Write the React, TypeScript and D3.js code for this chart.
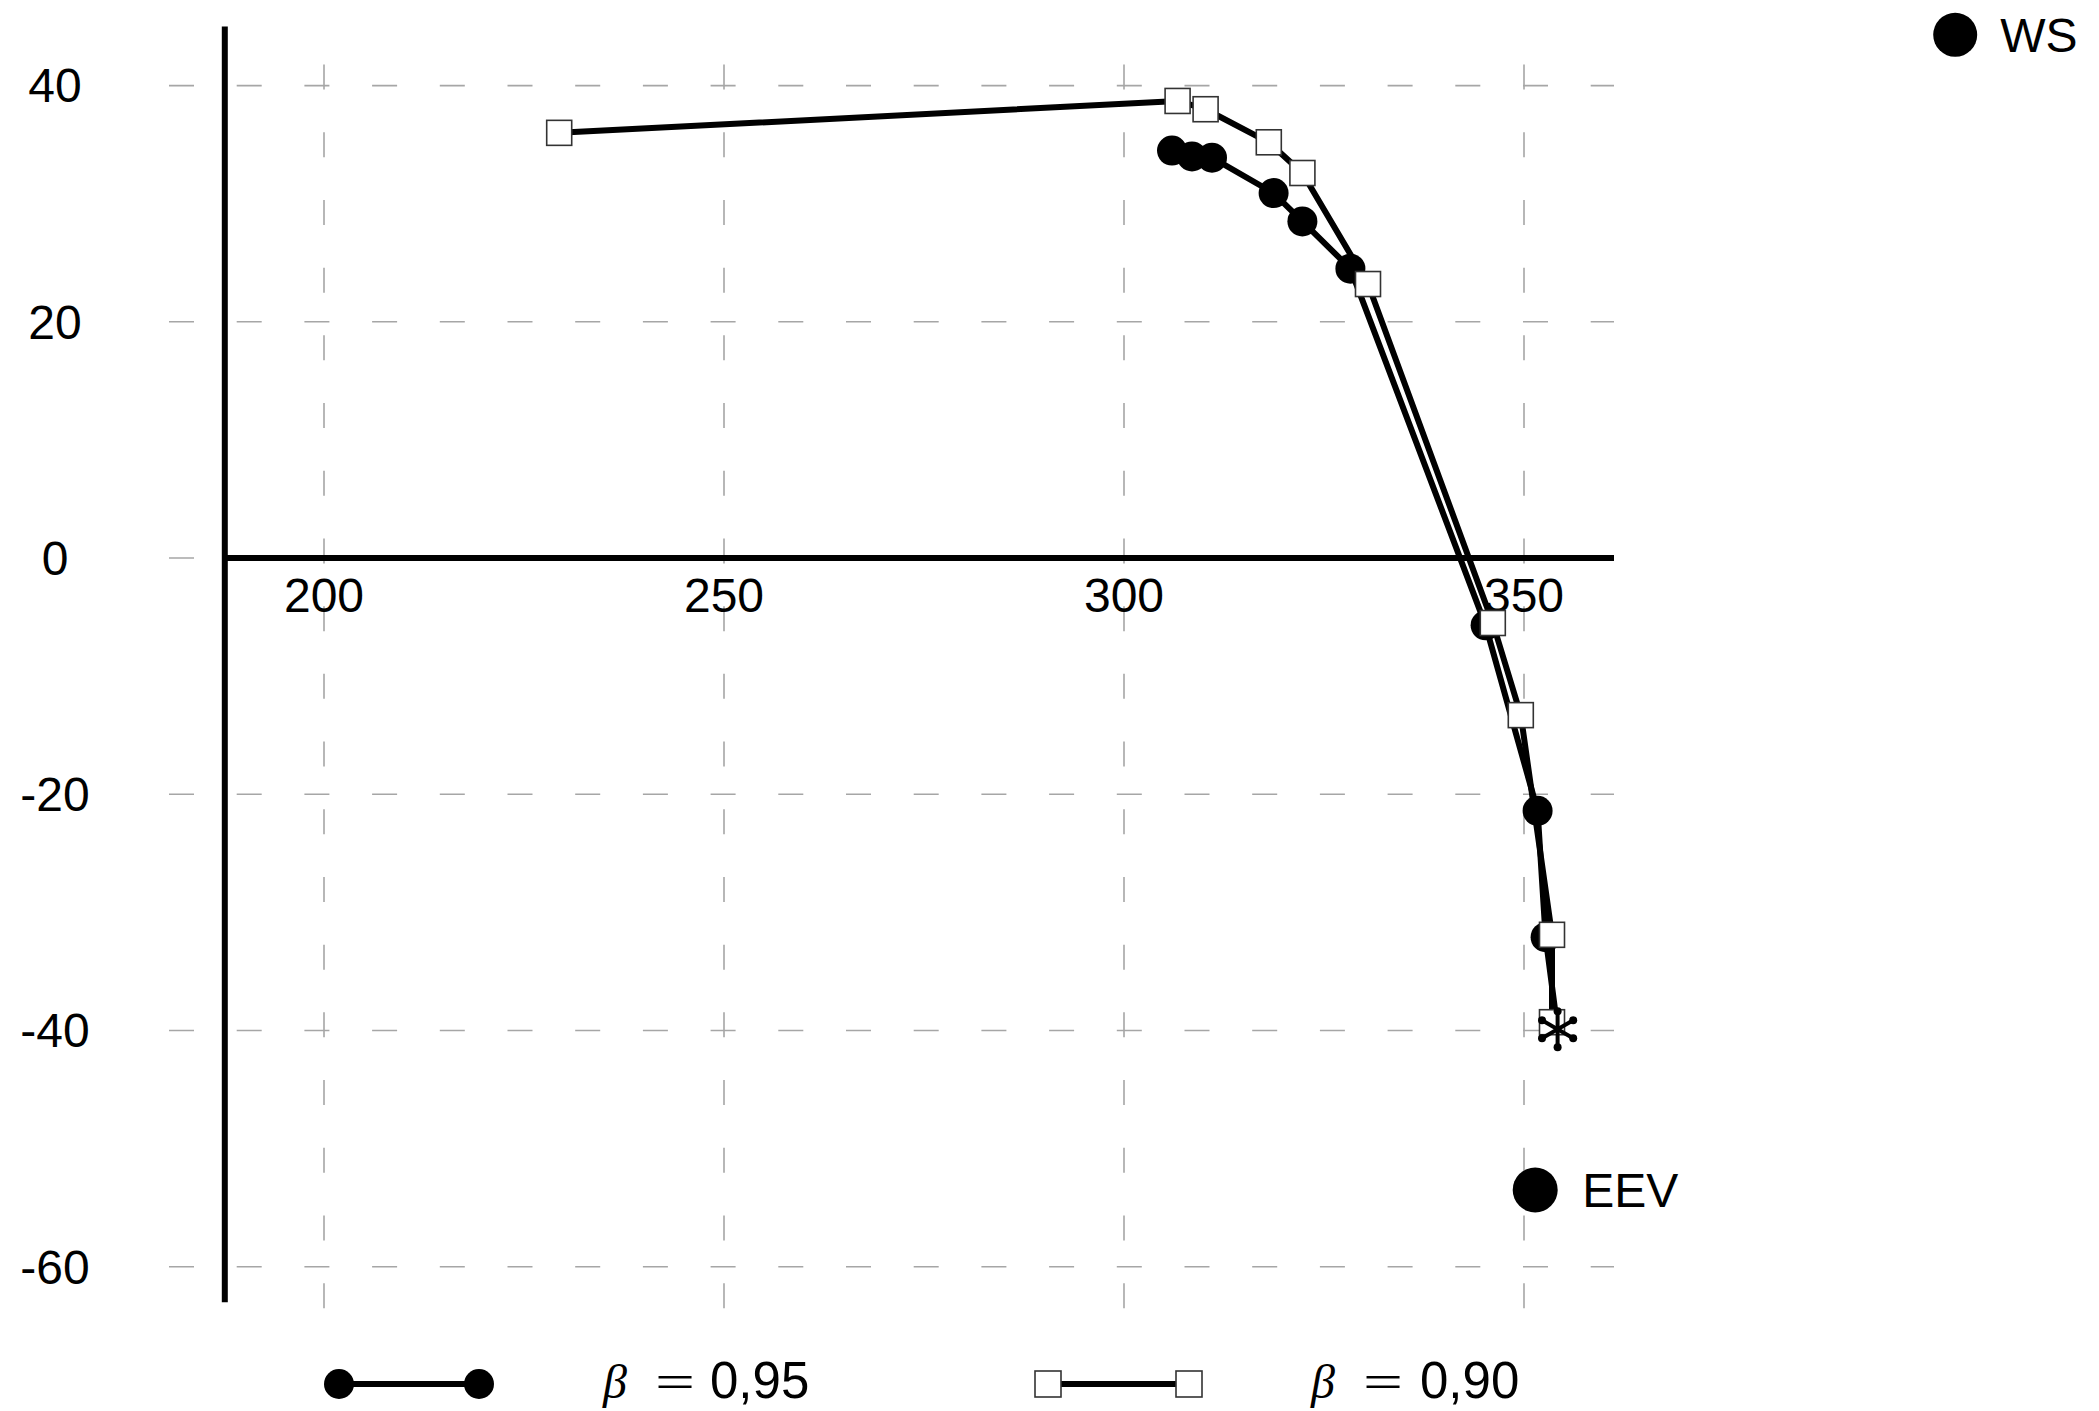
import React from 'react';
import * as d3 from 'd3';

// beta = 0.95 (filled circles)
const beta95X = [306.0, 308.5, 311.0, 318.7, 322.3, 328.3, 345.2, 351.7, 352.7];
const beta95Y = [34.5, 34.0, 33.9, 30.9, 28.5, 24.5, -5.7, -21.4, -32.1];

// beta = 0.90 (open squares)
const beta90X = [229.4, 306.7, 310.2, 318.1, 322.3, 330.5, 346.1, 349.6, 353.5, 353.5];
const beta90Y = [36.0, 38.7, 38.0, 35.2, 32.6, 23.2, -5.5, -13.3, -31.9, -39.3];

// end point (star), and the two labelled points
const idealPoint = [354.2, -39.9];
const eevPoint = [351.4, -53.5];
const wsPoint = [403.9, 44.3];

const xTicks = [200, 250, 300, 350];
const yTicks = [40, 20, 0, -20, -40, -60];
const legendLabels = ['0,95', '0,90'];

const W = 2099;
const H = 1411;
const FONT = '"Liberation Sans", Arial, Helvetica, sans-serif';
const SERIF = '"Liberation Serif", "DejaVu Serif", serif';
const GRID = '#a6a6a6';

export default function App() {
  const x = d3.scaleLinear().domain([200, 350]).range([324, 1524]);
  const y = d3.scaleLinear().domain([40, -60]).range([85.6, 1266.7]);

  const xAxisMin = 187.6;
  const xAxisMax = 361.25;
  const yAxisMin = -63;
  const yAxisMax = 45;

  const line = d3.line<[number, number]>()
    .x(d => x(d[0]))
    .y(d => y(d[1]));

  const pts95: [number, number][] = beta95X.map((v, i) => [v, beta95Y[i]]);
  const pts90: [number, number][] = beta90X.map((v, i) => [v, beta90Y[i]]);
  const line95 = line([...pts95, [idealPoint[0], idealPoint[1]]]);
  const line90 = line(pts90);

  const sq = 25;
  const starX = x(idealPoint[0]);
  const starY = y(idealPoint[1]);
  const spokes = d3.range(6).map(i => (Math.PI / 180) * (30 + i * 60));

  const legendY = 1384;
  const legendBase = 1398;

  return (
    <svg width={W} height={H} style={{ position: 'absolute', left: 0, top: 0, background: '#fff' }}>
      {/* grid */}
      <g stroke={GRID} strokeWidth={1.6} strokeDasharray="25 42.7" fill="none">
        {xTicks.map(t => (
          <line key={'gx' + t} x1={x(t)} x2={x(t)} y1={y(yAxisMin) + 6} y2={y(yAxisMax)} />
        ))}
        {yTicks.map(t => (
          <line key={'gy' + t} x1={169} x2={x(xAxisMax)} y1={y(t)} y2={y(t)} />
        ))}
      </g>

      {/* axes */}
      <line x1={x(xAxisMin)} x2={x(xAxisMin)} y1={y(yAxisMax)} y2={y(yAxisMin)} stroke="#000" strokeWidth={6} />
      <line x1={x(xAxisMin)} x2={x(xAxisMax)} y1={y(0)} y2={y(0)} stroke="#000" strokeWidth={6} />

      {/* tick labels */}
      <g fontFamily={FONT} fontSize={48} fill="#000">
        {xTicks.map(t => (
          <text key={'tx' + t} x={x(t)} y={612} textAnchor="middle">{t}</text>
        ))}
        {yTicks.map(t => (
          <text key={'ty' + t} x={55} y={y(t)} dy="0.35em" textAnchor="middle">{t}</text>
        ))}
      </g>

      {/* beta = 0.95 */}
      <path d={line95 || ''} fill="none" stroke="#000" strokeWidth={6} strokeLinejoin="round" />
      {pts95.map((p, i) => (
        <circle key={'c' + i} cx={x(p[0])} cy={y(p[1])} r={15} fill="#000" />
      ))}

      {/* beta = 0.90 */}
      <path d={line90 || ''} fill="none" stroke="#000" strokeWidth={6} strokeLinejoin="round" />
      {pts90.map((p, i) => (
        <rect key={'s' + i} x={x(p[0]) - sq / 2} y={y(p[1]) - sq / 2} width={sq} height={sq}
          fill="#fff" stroke="#333" strokeWidth={1.6} />
      ))}

      {/* star */}
      <g>
        {spokes.map((a, i) => (
          <g key={'sp' + i}>
            <line x1={starX} y1={starY} x2={starX + 18 * Math.cos(a)} y2={starY + 18 * Math.sin(a)}
              stroke="#000" strokeWidth={4} />
            <circle cx={starX + 18 * Math.cos(a)} cy={starY + 18 * Math.sin(a)} r={4} fill="#000" />
          </g>
        ))}
      </g>

      {/* labelled points */}
      <circle cx={x(eevPoint[0])} cy={y(eevPoint[1])} r={22.5} fill="#000" />
      <text x={x(eevPoint[0]) + 47} y={y(eevPoint[1])} dy="0.36em" fontFamily={FONT} fontSize={48}>EEV</text>
      <circle cx={x(wsPoint[0])} cy={y(wsPoint[1])} r={22} fill="#000" />
      <text x={x(wsPoint[0]) + 45} y={y(wsPoint[1])} dy="0.36em" fontFamily={FONT} fontSize={48}>WS</text>

      {/* legend */}
      <g>
        <line x1={339} x2={479} y1={legendY} y2={legendY} stroke="#000" strokeWidth={6} />
        <circle cx={339} cy={legendY} r={15} fill="#000" />
        <circle cx={479} cy={legendY} r={15} fill="#000" />
        <text x={603} y={legendBase} fontFamily={SERIF} fontStyle="italic" fontSize={48}>β</text>
        <text x={655} y={legendBase} textLength={40} lengthAdjust="spacingAndGlyphs"
          fontFamily={SERIF} fontSize={48}>=</text>
        <text x={710} y={legendBase} fontFamily={FONT} fontSize={51}>{legendLabels[0]}</text>

        <line x1={1048} x2={1189} y1={legendY} y2={legendY} stroke="#000" strokeWidth={6} />
        <rect x={1048 - 13} y={legendY - 13} width={26} height={26} fill="#fff" stroke="#333" strokeWidth={1.6} />
        <rect x={1189 - 13} y={legendY - 13} width={26} height={26} fill="#fff" stroke="#333" strokeWidth={1.6} />
        <text x={1311} y={legendBase} fontFamily={SERIF} fontStyle="italic" fontSize={48}>β</text>
        <text x={1363} y={legendBase} textLength={40} lengthAdjust="spacingAndGlyphs"
          fontFamily={SERIF} fontSize={48}>=</text>
        <text x={1420} y={legendBase} fontFamily={FONT} fontSize={51}>{legendLabels[1]}</text>
      </g>
    </svg>
  );
}
